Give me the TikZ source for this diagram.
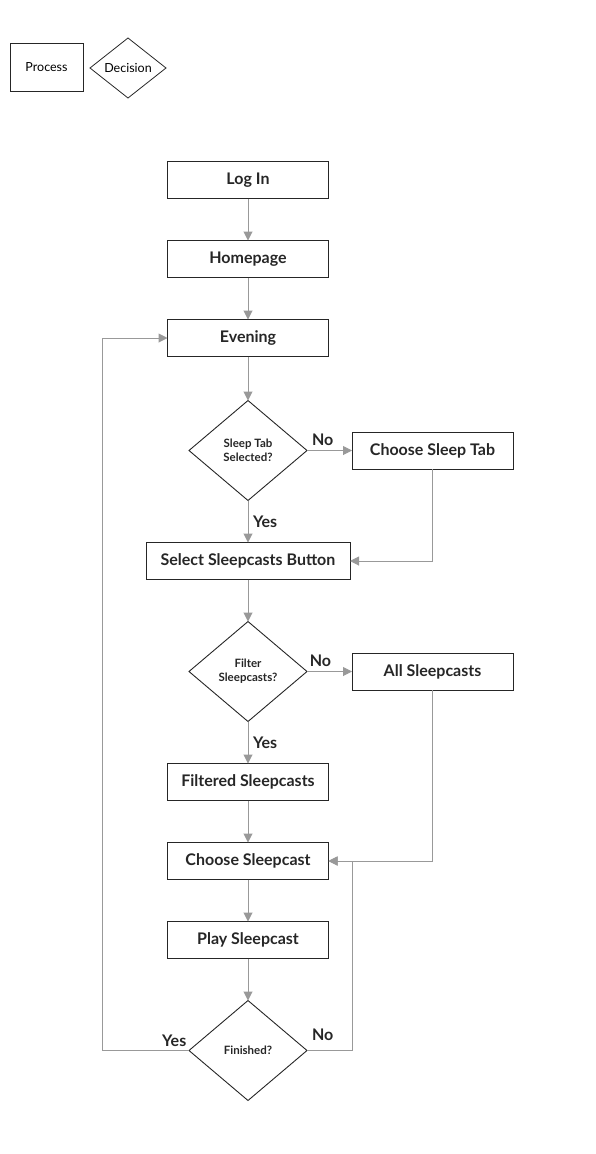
\documentclass[tikz,border=0pt]{standalone}
\usepackage{fontspec}
\setmainfont{Lato}
\usepackage{tikz}
\usetikzlibrary{shapes,arrows.meta,calc,positioning}

\begin{document}
\begin{tikzpicture}[x=1pt, y=1pt, node distance=42pt, outer sep=0pt,
  process/.style={draw=black!85, line width=0.9pt, rectangle, minimum width=161pt, minimum height=37pt, inner sep=0pt, font=\fontsize{16}{18}\selectfont\bfseries, text=black!85},
  decision/.style={draw=black!85, line width=0.9pt, diamond, aspect=1.18, minimum width=118pt, minimum height=100pt, inner sep=0pt, align=center, font=\fontsize{11.5}{14}\selectfont\bfseries, text=black!85},
  flow/.style={draw=black!40, line width=1pt, -{Triangle[length=9pt, width=9pt]}},
  answer/.style={font=\fontsize{16}{18}\selectfont\bfseries, text=black!85, inner sep=2pt}]
  \useasboundingbox (0,0) rectangle (595,-1154);

  \node (LEGP) [draw=black!85, line width=0.8pt, minimum width=73pt, minimum height=48pt, inner sep=0pt, font=\fontsize{12.5}{14}\selectfont] at (46.5,-67) {Process};
  \node (LEGD) [draw=black!85, line width=0.8pt, diamond, aspect=1.27, minimum width=76pt, minimum height=60pt, inner sep=0pt, font=\fontsize{12.5}{14}\selectfont] at (128,-68) {Decision};

  \node (LOGIN) [process] at (248,-180) {Log In};
  \node (HOME) [process, below=of LOGIN] {Homepage};
  \node (EVENING) [process, below=of HOME] {Evening};
  \node (TABQ) [decision, below=44pt of EVENING] {Sleep Tab\\Selected?};
  \node (CHOOSETAB) [process, right=45pt of TABQ] {Choose Sleep Tab};
  \node (SELBTN) [process, below=of TABQ, minimum width=204pt] {Select Sleepcasts Button};
  \node (FILTERQ) [decision, below=of SELBTN] {Filter\\Sleepcasts?};
  \node (ALLSC) [process, right=45pt of FILTERQ] {All Sleepcasts};
  \node (FILTSC) [process, below=of FILTERQ] {Filtered Sleepcasts};
  \node (CHOOSESC) [process, below=of FILTSC] {Choose Sleepcast};
  \node (PLAYSC) [process, below=of CHOOSESC] {Play Sleepcast};
  \node (DONEQ) [decision, below=of PLAYSC] {Finished?};

  \coordinate (BACK) at ($(DONEQ.west)+(-87,0)$);
  \coordinate (AGAIN) at (DONEQ.east -| ALLSC.west);

  \draw[flow] (LOGIN) -- (HOME);
  \draw[flow] (HOME) -- (EVENING);
  \draw[flow] (EVENING) -- (TABQ);
  \draw[flow] (TABQ) -- node[answer, above=3pt, pos=0.35] {No} (CHOOSETAB);
  \draw[flow] (TABQ) -- node[answer, right=3pt] {Yes} (SELBTN);
  \draw[flow] (CHOOSETAB) |- (SELBTN);
  \draw[flow] (SELBTN) -- (FILTERQ);
  \draw[flow] (FILTERQ) -- node[answer, above=3pt, pos=0.3] {No} (ALLSC);
  \draw[flow] (FILTERQ) -- node[answer, right=3pt] {Yes} (FILTSC);
  \draw[flow] (FILTSC) -- (CHOOSESC);
  \draw[flow] (ALLSC) |- (CHOOSESC);
  \draw[flow] (CHOOSESC) -- (PLAYSC);
  \draw[flow] (PLAYSC) -- (DONEQ);
  \draw[flow] (DONEQ.west) -- node[answer, above=2pt, pos=0.17] {Yes} (BACK) |- (EVENING);
  \draw[flow] (DONEQ.east) -- node[answer, above=8pt, pos=0.35] {No} (AGAIN) |- (CHOOSESC);
\end{tikzpicture}
\end{document}
